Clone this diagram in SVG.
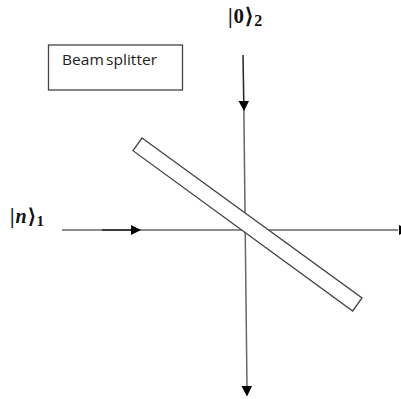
<svg xmlns="http://www.w3.org/2000/svg" width="401" height="399" viewBox="0 0 401 399">
<style>
.ln{stroke:#666;stroke-width:1.5;fill:none}
.dk{stroke:#222;stroke-width:1.5;fill:none}
.hd{fill:#000;stroke:none}
.box{fill:#fff;stroke:#444;stroke-width:1.3}
.m{font-family:"Liberation Serif",serif;font-weight:bold;fill:#111;letter-spacing:1px}
.t{font-family:"Open Sans","Liberation Sans",sans-serif;font-size:14px;fill:#222}
</style>
<rect width="401" height="399" fill="#fff"/>
<g id="connectors">
<path class="dk" d="M243 55L243.800 104"/>
<path class="ln" d="M243.800 104L247 388"/>
<path class="hd" d="M238.500 101L249 101L244 111Z"/>
<path class="hd" d="M241.500 386L252 386L247 396.500Z"/>
<path class="ln" d="M62 230L398 230"/>
<path class="dk" d="M102 230L133 230"/>
<path class="hd" d="M131 225L141 230L131 235Z"/>
<path class="hd" d="M399 225L401 226L401 234L399 235Z"/>
</g>
<g id="splitter"><path class="box" d="M142 138L362 298L352.700 311L133 150.700Z"/></g>
<g id="label-box"><rect class="box" x="48.500" y="45" width="134" height="45"/><text class="t" x="62" y="65" textLength="95" lengthAdjust="spacingAndGlyphs" word-spacing="-1.500">Beam splitter</text></g>
<g id="ket-0"><text class="m" x="228" y="23" font-size="21">|0⟩<tspan font-size="16" dy="3">2</tspan></text></g>
<g id="ket-n"><text class="m" x="10" y="223" font-size="20">|<tspan font-style="italic">n</tspan>⟩<tspan font-size="15" dy="3">1</tspan></text></g>
</svg>
